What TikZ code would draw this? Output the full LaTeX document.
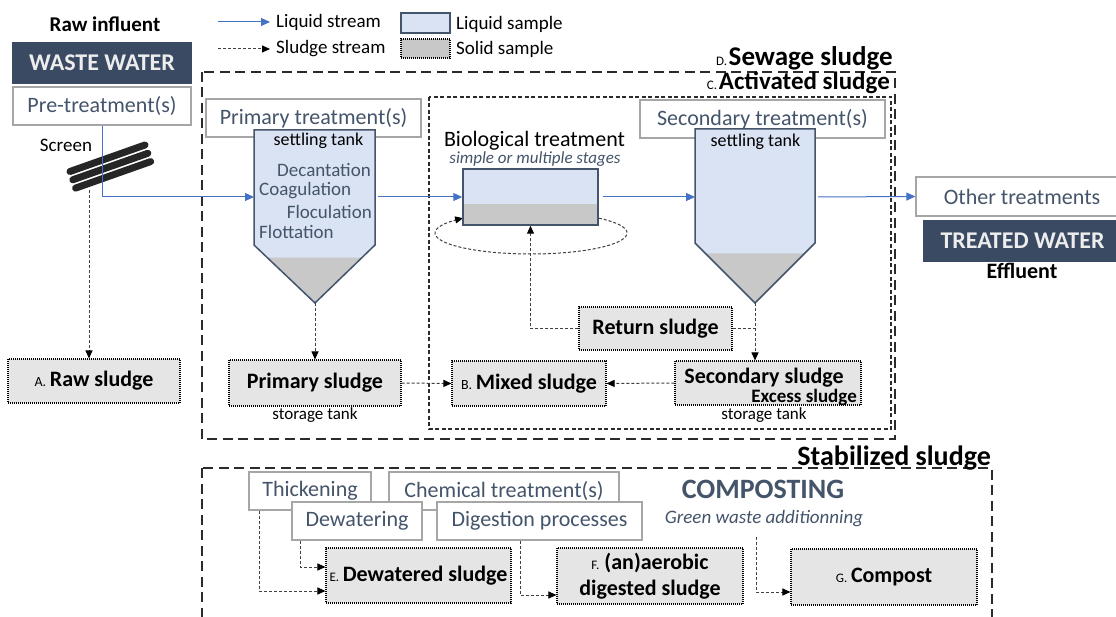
\documentclass[tikz,border=0pt]{standalone}
\usepackage{fontspec}
\setmainfont{Carlito}
\usetikzlibrary{arrows.meta,calc}
\definecolor{slate}{HTML}{44546A}
\definecolor{darkslate}{HTML}{3B4A63}
\definecolor{lightblue}{HTML}{DAE3F3}
\definecolor{sludgegray}{HTML}{C8C8C8}
\definecolor{samplefill}{HTML}{E5E5E5}
\definecolor{boxgray}{HTML}{A6A6A6}
\definecolor{arrowblue}{HTML}{4472C4}
\definecolor{wtext}{HTML}{EDEDED}
\definecolor{sludgeline}{HTML}{404040}
\definecolor{dashcol}{HTML}{2B2B2B}
\definecolor{barcol}{HTML}{262626}
\newcommand{\fz}[1]{\fontsize{#1}{#1}\selectfont}
\tikzset{
  wh/.style 2 args={minimum width=#1pt, minimum height=#2pt},
  gbox/.style={draw=boxgray, line width=1.3pt, fill=white, inner sep=0pt, text=slate, font={\fz{22}}},
  dbox/.style={fill=darkslate, inner sep=0pt, text=wtext, font={\fz{24}\bfseries}},
  sbox/.style={fill=samplefill, draw=black, line width=1.1pt, dash pattern=on 1pt off 1pt, inner sep=0pt, font={\fz{22}\bfseries}},
  liq/.style={draw=arrowblue, line width=1pt, -{Triangle[length=9pt,width=8pt]}},
  slg/.style={draw=sludgeline, line width=1pt, dash pattern=on 3pt off 2pt, -{Triangle[length=8pt,width=7pt,color=black]}},
  tank/.style={draw=slate, line width=1.5pt, line join=miter},
  lbl/.style={inner sep=0pt},
  dashD/.style={draw=dashcol, line width=1.7pt, dash pattern=on 10pt off 5.5pt},
  dashC/.style={draw=dashcol, line width=1.7pt, dash pattern=on 4pt off 2.5pt},
  bar/.style={draw=barcol, line width=7pt, line cap=round},
}
\begin{document}
\begin{tikzpicture}[x=1pt,y=-1pt]
\useasboundingbox (0,0) rectangle (1116,617);
\fill[white] (0,0) rectangle (1116,617);

% ---- group frames
\draw[dashD] (202,72) rectangle (895,439);
\draw[dashC] (429,97) rectangle (891,429);
\draw[dashD] (202,468) rectangle (992,660);

\node[lbl, anchor=base east] (dlab) at (893,66) {{\fz{13}D.}\,{\fz{27}\bfseries Sewage sludge}};
\node[lbl, anchor=base east] (clab) at (890,90) {{\fz{13}C.}\,{\fz{25}\bfseries Activated sludge}};
\node[lbl, anchor=base east] (stab) at (991,465) {\fz{28}\bfseries Stabilized sludge};

% ---- legend
\coordinate (lq1) at (218,22); \coordinate (lq2) at (270,22);
\coordinate (ls1) at (218,49); \coordinate (ls2) at (270,49);
\draw[liq] (lq1) -- (lq2);
\draw[slg] (ls1) -- (ls2);
\node[lbl, anchor=base west, font={\fz{19}}] (lqt) at (276,28) {Liquid stream};
\node[lbl, anchor=base west, font={\fz{19}}] (lst) at (276,54) {Sludge stream};
\node[draw=slate, line width=1.3pt, fill=lightblue, wh={49}{20}, inner sep=0pt] (lsamp) at (425.5,23) {};
\node[sbox, fill=sludgegray, wh={49}{19}] (ssamp) at (425.5,48.5) {};
\node[lbl, anchor=base west, font={\fz{19}}] (lsampt) at (456,30) {Liquid sample};
\node[lbl, anchor=base west, font={\fz{19}}] (ssampt) at (456,55) {Solid sample};

% ---- influent side
\node[lbl, anchor=base, font={\fz{21}\bfseries}] (rawinf) at (105,32) {Raw influent};
\node[dbox, wh={180}{42}] (ww) at (102,63) {WASTE WATER};
\node[gbox, wh={178}{38}] (pre) at (102,106) {Pre-treatment(s)};
\node[lbl, anchor=base, font={\fz{19}}] (scrt) at (66,152) {Screen};

% screen bars
\foreach \dx/\dy in {0/0, 2.8/8.3, 5.6/16.6} {
  \draw[bar] (70+\dx,171.5+\dy) -- (145+\dx,145+\dy);
}
\coordinate (scr) at (89,190);

% ---- primary treatment
\node[gbox, wh={215}{38}] (prim) at (313.5,118) {Primary treatment(s)};
\fill[lightblue] (254,130) -- (375,130) -- (375,245) -- (315,303) -- (254,245) -- cycle;
\fill[sludgegray] (267.7,257.7) -- (362.3,257.7) -- (315,303) -- cycle;
\draw[tank] (254,130) -- (375,130) -- (375,245) -- (315,303) -- (254,245) -- cycle;
\coordinate (pin) at (254,197);
\coordinate (pout) at (378,197);
\coordinate (ptip) at (315,303);
\node[lbl, anchor=base, font={\fz{18}}] (pst) at (318.5,146) {settling tank};
\node[lbl, anchor=base east, text=slate, font={\fz{19}}] (dec) at (371,177) {Decantation};
\node[lbl, anchor=base west, text=slate, font={\fz{19}}] (coa) at (259,196) {Coagulation};
\node[lbl, anchor=base east, text=slate, font={\fz{19}}] (flo) at (372,219) {Floculation};
\node[lbl, anchor=base west, text=slate, font={\fz{19}}] (flt) at (259,239) {Flottation};

% ---- biological treatment
\node[lbl, anchor=base, font={\fz{22}}] (biot) at (534.5,147) {Biological treatment};
\node[lbl, anchor=base, text=slate, font={\fz{17}\itshape}] (biost) at (535,164) {simple or multiple stages};
\draw[slg] plot[domain=-45:225, samples=90, smooth] ({531+96*cos(\x)},{233+21*sin(\x)});
\fill[lightblue] (463,169) rectangle (598,204);
\fill[sludgegray] (463,204) rectangle (598,225);
\node[draw=slate, line width=1.5pt, wh={135}{56}, inner sep=0pt] (bio) at (530.5,197) {};

% ---- secondary treatment
\node[gbox, wh={245}{38}] (sec) at (762.5,119) {Secondary treatment(s)};
\fill[lightblue] (695,129) -- (815,129) -- (815,243) -- (755,303) -- (695,243) -- cycle;
\fill[sludgegray] (705.3,253.3) -- (804.7,253.3) -- (755,303) -- cycle;
\draw[tank] (695,129) -- (815,129) -- (815,243) -- (755,303) -- (695,243) -- cycle;
\coordinate (sin) at (695,197);
\coordinate (sout) at (818,197);
\coordinate (stip) at (755,303);
\node[lbl, anchor=base, font={\fz{18}}] (sst) at (755.5,147) {settling tank};

% ---- effluent side
\node[gbox, wh={212}{39}] (other) at (1022,196.5) {Other treatments};
\node[dbox, wh={199}{42}] (tw) at (1022.5,241) {TREATED WATER};
\node[lbl, anchor=base, font={\fz{22}\bfseries}] (eff) at (1022,279) {Effluent};

% ---- sludge boxes
\node[sbox, wh={172}{44}] (raw) at (94,381) {{\fz{14}\mdseries A.}\,Raw sludge};
\node[sbox, wh={172}{46}] (psl) at (315,383) {Primary sludge};
\node[lbl, anchor=base, font={\fz{17}}] (pstor) at (315,419) {storage tank};
\node[sbox, wh={154}{45}] (mix) at (529,383.5) {{\fz{14}\mdseries B.}\,Mixed sludge};
\node[sbox, wh={153}{43}] (ret) at (655.5,328.5) {Return sludge};
\node[sbox, wh={186}{44}] (ssl) at (768,383) {};
\node[lbl, anchor=base, font={\fz{22}\bfseries}] (sslt) at (764,384) {Secondary sludge};
\node[lbl, anchor=base east, font={\fz{19}\bfseries}] (exc) at (857,402) {Excess sludge};
\node[lbl, anchor=base, font={\fz{17}}] (sstor) at (764,419) {storage tank};

% ---- liquid stream
\draw[liq] (pre.south) |- (pin);
\draw[liq] (pout) -- (bio.west);
\draw[liq] ([xshift=4pt]bio.east) -- (sin);
\draw[liq] (sout) -- (other.west);

% ---- sludge stream (top)
\draw[slg] (scr) -- (scr |- raw.north);
\draw[slg] (ptip) -- (psl.north);
\draw[slg] (psl.east) -- (mix.west);
\draw[slg] (ssl.west) -- (mix.east);
\draw[slg] (stip) -- (stip |- ssl.north);
\draw[slg,-] (ret.east) -- (ret.east -| stip);
\draw[slg] (ret.west) -| (bio.south);

% ---- stabilized sludge
\node[gbox, wh={122}{38}] (thick) at (310,491) {Thickening};
\node[gbox, wh={230}{38}] (chem) at (504,491) {Chemical treatment(s)};
\node[gbox, wh={130}{38}] (dew) at (357,521) {Dewatering};
\node[gbox, wh={205}{38}] (dig) at (539.5,521) {Digestion processes};
\node[lbl, anchor=base, text=slate, font={\fz{28}\bfseries}] (comp) at (763,498) {COMPOSTING};
\node[lbl, anchor=base, text=slate, font={\fz{19}\itshape}] (grn) at (764,523) {Green waste additionning};

\node[sbox, wh={185}{55}] (dsl) at (418.5,575.5) {{\fz{13}\mdseries E.}\,Dewatered sludge};
\node[sbox, wh={186}{56}, align=center, font={\fontsize{22}{26}\selectfont\bfseries}] (fsl) at (650,576) {{\fz{13}\mdseries F.}\ (an)aerobic\\digested sludge};
\node[sbox, wh={186}{56}] (gsl) at (884,577) {{\fz{13}\mdseries G.}\,Compost};

\coordinate (gw) at (756,537);
\draw[slg] ($(thick.south west)+(11,0)$) |- ($(dsl.west)+(0,15.5)$);
\draw[slg] ($(dew.south west)+(9,0)$) |- ($(dsl.west)+(0,-8.5)$);
\draw[slg] ($(dig.south west)+(84,0)$) |- ($(fsl.west)+(0,19)$);
\draw[slg] (gw) |- ($(gsl.west)+(0,15)$);
\end{tikzpicture}
\end{document}
